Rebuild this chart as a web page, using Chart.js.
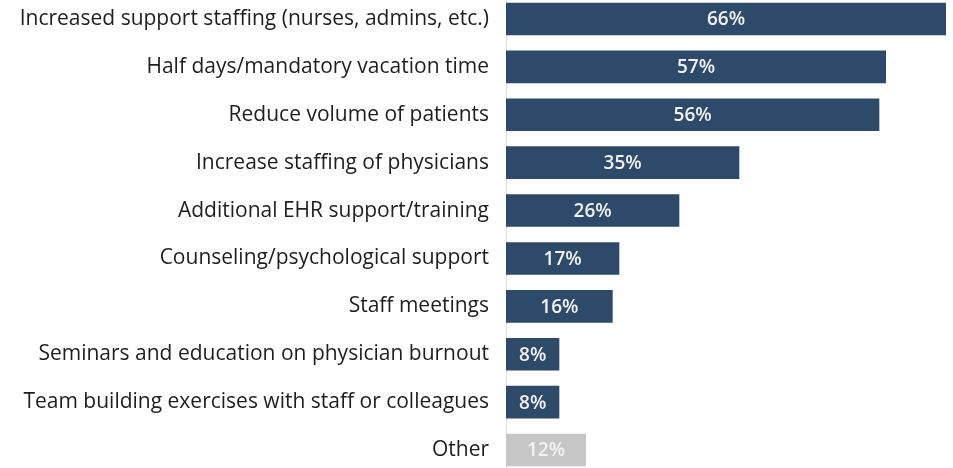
<!DOCTYPE html>
<html>
<head>
<meta charset="utf-8">
<script src="https://cdn.jsdelivr.net/npm/chart.js@4.4.1/dist/chart.umd.min.js"></script>
<style>
  html, body { margin: 0; padding: 0; background: #fff; overflow: hidden; }
  #barChart { display: block; position: absolute; left: 0; top: -5px; }
</style>
</head>
<body>
<canvas id="barChart" width="953" height="479"></canvas>
<script>
var categories = [
  'Increased support staffing (nurses, admins, etc.)',
  'Half days/mandatory vacation time',
  'Reduce volume of patients',
  'Increase staffing of physicians',
  'Additional EHR support/training',
  'Counseling/psychological support',
  'Staff meetings',
  'Seminars and education on physician burnout',
  'Team building exercises with staff or colleagues',
  'Other'
];
var percents = [66, 57, 56, 35, 26, 17, 16, 8, 8, 12];
var barColors = ['#2d4a6b', '#2d4a6b', '#2d4a6b', '#2d4a6b', '#2d4a6b',
                 '#2d4a6b', '#2d4a6b', '#2d4a6b', '#2d4a6b', '#c6c6c6'];

// writes the value in the middle of each bar
var barLabels = {
  id: 'barLabels',
  afterDatasetsDraw: function(chart) {
    var ctx = chart.ctx;
    var meta = chart.getDatasetMeta(0);
    ctx.save();
    ctx.font = '600 19px "Open Sans", sans-serif';
    ctx.fillStyle = '#f2f2f2';
    ctx.textAlign = 'center';
    ctx.textBaseline = 'middle';
    meta.data.forEach(function(bar, i) {
      var cx = (bar.x + bar.base) / 2;
      ctx.fillText(percents[i] + '%', cx, bar.y + 1);
    });
    ctx.restore();
  }
};

var barChartCanvas = document.getElementById('barChart').getContext('2d');
var barChart = new Chart(barChartCanvas, {
  type: 'bar',
  data: {
    labels: categories,
    datasets: [
      {
        data: percents,
        backgroundColor: barColors,
        borderWidth: 0,
        categoryPercentage: 1,
        barPercentage: 0.68
      }
    ]
  },
  options: {
    indexAxis: 'y',
    responsive: false,
    animation: false,
    layout: { autoPadding: false, padding: { left: 0, right: 7, top: 0, bottom: 0 } },
    plugins: {
      legend: { display: false },
      tooltip: { enabled: false }
    },
    scales: {
      x: {
        display: false,
        min: 0,
        max: 66
      },
      y: {
        grid: { display: false },
        border: { display: true, color: '#dcdcdc', width: 1 },
        ticks: {
          color: '#1e1e1e',
          padding: 9,
          font: { family: '"Open Sans", sans-serif', size: 21 }
        },
        // fixed label column; labels sit between bars, no extra room above/below
        afterFit: function(scale) {
          scale.width = 506;
          scale.paddingTop = 0;
          scale.paddingBottom = 0;
        }
      }
    }
  },
  plugins: [barLabels]
});
</script>
</body>
</html>
